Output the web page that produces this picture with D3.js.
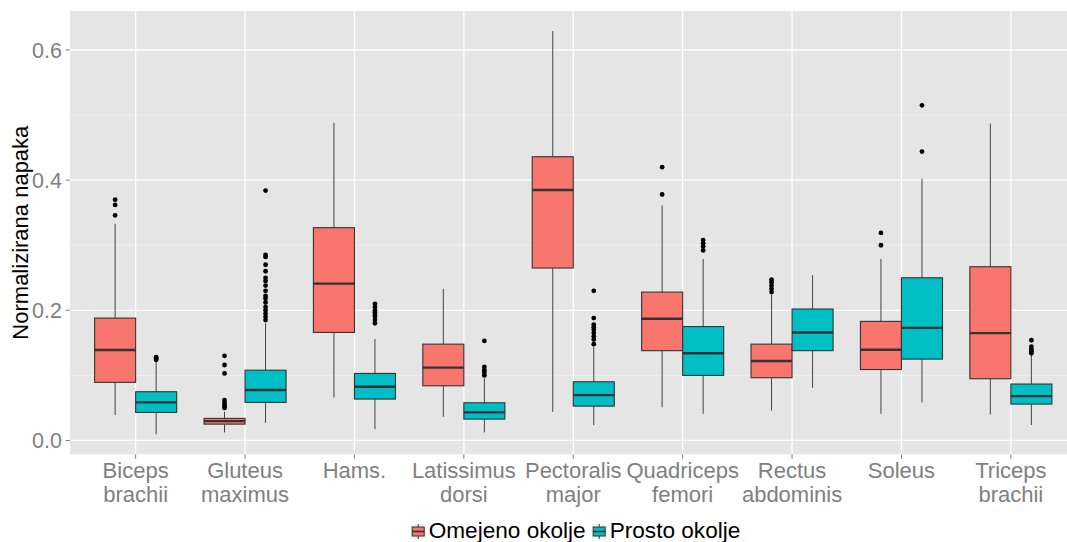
<!DOCTYPE html>
<html>
<head>
<meta charset="utf-8">
<script src="https://cdn.jsdelivr.net/npm/d3@7"></script>
<style>
  body { margin: 0; background: #fff; }
  text { font-family: "Liberation Sans", Arial, sans-serif; }
</style>
</head>
<body>
<script>
// categories and groups
const muscles = ["Biceps\nbrachii", "Gluteus\nmaximus", "Hams.", "Latissimus\ndorsi", "Pectoralis\nmajor",
  "Quadriceps\nfemori", "Rectus\nabdominis", "Soleus", "Triceps\nbrachii"];
const groups = ["Omejeno okolje", "Prosto okolje"];
const yTicks = [0.0, 0.2, 0.4, 0.6];
const yMinor = [0.1, 0.3, 0.5];

// Omejeno okolje (box stats per muscle)
const omLow = [0.039, 0.0123, 0.066, 0.0363, 0.044, 0.051, 0.046, 0.041, 0.040];
const omQ1 = [0.0893, 0.0251, 0.166, 0.084, 0.265, 0.138, 0.0964, 0.109, 0.0949];
const omMed = [0.139, 0.0297, 0.241, 0.112, 0.385, 0.187, 0.122, 0.1395, 0.165];
const omQ3 = [0.188, 0.0339, 0.327, 0.148, 0.436, 0.228, 0.148, 0.183, 0.267];
const omHigh = [0.333, 0.044, 0.488, 0.233, 0.629, 0.361, 0.224, 0.279, 0.487];
const omOut = [
  [0.346, 0.362, 0.370],
  [0.050, 0.052, 0.055, 0.058, 0.062, 0.103, 0.116, 0.130],
  [], [], [],
  [0.378, 0.420],
  [0.228, 0.233, 0.238, 0.243, 0.247],
  [0.300, 0.319],
  []
];

// Prosto okolje
const prLow = [0.0097, 0.027, 0.0174, 0.0123, 0.0236, 0.041, 0.081, 0.0585, 0.0236];
const prQ1 = [0.0431, 0.0585, 0.0636, 0.0328, 0.0528, 0.100, 0.138, 0.125, 0.0559];
const prMed = [0.0585, 0.0775, 0.0825, 0.0431, 0.0697, 0.134, 0.166, 0.173, 0.0682];
const prQ3 = [0.0749, 0.108, 0.103, 0.0579, 0.0902, 0.175, 0.202, 0.250, 0.0867];
const prHigh = [0.121, 0.180, 0.156, 0.0955, 0.144, 0.279, 0.254, 0.402, 0.131];
const prOut = [
  [0.124, 0.126, 0.128],
  [0.185, 0.19, 0.195, 0.20, 0.205, 0.212, 0.218, 0.222, 0.23, 0.238, 0.245, 0.25, 0.26, 0.27, 0.282, 0.285, 0.384],
  [0.18, 0.185, 0.19, 0.193, 0.197, 0.20, 0.205, 0.210],
  [0.100, 0.104, 0.108, 0.113, 0.153],
  [0.148, 0.155, 0.16, 0.165, 0.17, 0.174, 0.178, 0.188, 0.230],
  [0.292, 0.298, 0.303, 0.308],
  [],
  [0.444, 0.515],
  [0.134, 0.137, 0.140, 0.144, 0.154]
];

const colors = ["#F8766D", "#00BFC4"];

const W = 1067, H = 542;
const panel = { left: 70, top: 11, right: 1076.5, bottom: 454.3 };

const svg = d3.select("body").append("svg")
  .attr("width", W).attr("height", H);

const boxes = [
  muscles.map((m, i) => ({ m, i, low: omLow[i], q1: omQ1[i], med: omMed[i], q3: omQ3[i], high: omHigh[i], out: omOut[i] })),
  muscles.map((m, i) => ({ m, i, low: prLow[i], q1: prQ1[i], med: prMed[i], q3: prQ3[i], high: prHigh[i], out: prOut[i] }))
];

// y domain like ggplot: data range expanded 5%
const allVals = boxes.flat().flatMap(d => [d.low, d.high, ...d.out]);
const [ymin, ymax] = d3.extent(allVals);
const pad = (ymax - ymin) * 0.05;
const y = d3.scaleLinear().domain([ymin - pad, ymax + pad]).range([panel.bottom, panel.top]);

const x = d3.scalePoint().domain(muscles).range([panel.left, panel.right]).padding(0.6);
const step = x.step();
const dodge = 0.75 * step / 2;
const bw = 0.375 * step;

// panel background
svg.append("rect")
  .attr("x", panel.left).attr("y", panel.top)
  .attr("width", panel.right - panel.left).attr("height", panel.bottom - panel.top)
  .attr("fill", "#E5E5E5");

// grid
svg.append("g").selectAll("line").data(yMinor).join("line")
  .attr("x1", panel.left).attr("x2", panel.right)
  .attr("y1", d => y(d)).attr("y2", d => y(d))
  .attr("stroke", "#F2F2F2").attr("stroke-width", 0.8);
svg.append("g").selectAll("line").data(yTicks).join("line")
  .attr("x1", panel.left).attr("x2", panel.right)
  .attr("y1", d => y(d)).attr("y2", d => y(d))
  .attr("stroke", "#fff").attr("stroke-width", 1.3);
svg.append("g").selectAll("line").data(muscles).join("line")
  .attr("x1", d => x(d)).attr("x2", d => x(d))
  .attr("y1", panel.top).attr("y2", panel.bottom)
  .attr("stroke", "#fff").attr("stroke-width", 1.3);

// boxes
boxes.forEach((data, gi) => {
  const off = gi === 0 ? -dodge / 2 : dodge / 2;
  const g = svg.append("g");
  const cx = d => x(d.m) + off;

  g.selectAll(".wh").data(data).join("line")
    .attr("x1", cx).attr("x2", cx)
    .attr("y1", d => y(d.high)).attr("y2", d => y(d.q3))
    .attr("stroke", "#444").attr("stroke-width", 1);
  g.selectAll(".wl").data(data).join("line")
    .attr("x1", cx).attr("x2", cx)
    .attr("y1", d => y(d.q1)).attr("y2", d => y(d.low))
    .attr("stroke", "#444").attr("stroke-width", 1);

  g.selectAll("rect").data(data).join("rect")
    .attr("x", d => cx(d) - bw / 2).attr("width", bw)
    .attr("y", d => y(d.q3)).attr("height", d => y(d.q1) - y(d.q3))
    .attr("fill", colors[gi]).attr("stroke", "#333").attr("stroke-width", 1.1);

  g.selectAll(".med").data(data).join("line")
    .attr("x1", d => cx(d) - bw / 2).attr("x2", d => cx(d) + bw / 2)
    .attr("y1", d => y(d.med)).attr("y2", d => y(d.med))
    .attr("stroke", "#333").attr("stroke-width", 2.4);

  g.selectAll("circle").data(data.flatMap(d => d.out.map(v => ({ d, v })))).join("circle")
    .attr("cx", o => cx(o.d)).attr("cy", o => y(o.v)).attr("r", 2.4)
    .attr("fill", "#000");
});

// y axis
const ya = svg.append("g");
ya.selectAll("line").data(yTicks).join("line")
  .attr("x1", panel.left - 4.5).attr("x2", panel.left)
  .attr("y1", d => y(d)).attr("y2", d => y(d))
  .attr("stroke", "#7f7f7f").attr("stroke-width", 1);
ya.selectAll("text").data(yTicks).join("text")
  .attr("x", panel.left - 8).attr("y", d => y(d))
  .attr("dy", "0.36em")
  .attr("text-anchor", "end")
  .attr("fill", "#7f7f7f").style("font-size", "21.5px")
  .text(d => d3.format(".1f")(d));

svg.append("text")
  .attr("transform", `translate(28, ${(panel.top + panel.bottom) / 2}) rotate(-90)`)
  .attr("text-anchor", "middle")
  .style("font-size", "22px").attr("fill", "#000")
  .text("Normalizirana napaka");

// x axis
const xa = svg.append("g");
xa.selectAll("line").data(muscles).join("line")
  .attr("x1", d => x(d)).attr("x2", d => x(d))
  .attr("y1", panel.bottom).attr("y2", panel.bottom + 4.5)
  .attr("stroke", "#7f7f7f").attr("stroke-width", 1);
xa.selectAll("text").data(muscles).join("text")
  .attr("x", d => x(d)).attr("y", 478)
  .attr("text-anchor", "middle")
  .attr("fill", "#7f7f7f").style("font-size", "22px")
  .each(function (d) {
    d.split("\n").forEach((line, k) => {
      d3.select(this).append("tspan")
        .attr("x", x(d)).attr("y", 478 + k * 23.6).text(line);
    });
  });

// legend
const legend = svg.append("g");
const keyW = 15, keyH = 15, ly = 524;
let lx = 0;
groups.forEach((name, gi) => {
  const k = legend.append("g").attr("transform", `translate(${lx},0)`);
  k.append("rect").attr("x", 0).attr("y", ly).attr("width", keyW).attr("height", keyH)
    .attr("fill", "#F2F2F2");
  k.append("line").attr("x1", keyW / 2).attr("x2", keyW / 2).attr("y1", ly).attr("y2", ly + keyH)
    .attr("stroke", "#333").attr("stroke-width", 1);
  k.append("rect").attr("x", 1.5).attr("y", ly + 3).attr("width", keyW - 3).attr("height", keyH - 6)
    .attr("fill", colors[gi]).attr("stroke", "#333").attr("stroke-width", 1);
  k.append("line").attr("x1", 1.5).attr("x2", keyW - 1.5).attr("y1", ly + keyH / 2).attr("y2", ly + keyH / 2)
    .attr("stroke", "#333").attr("stroke-width", 1.6);
  const t = k.append("text").attr("x", keyW + 3).attr("y", 538.3)
    .style("font-size", "22.6px").attr("fill", "#000").text(name);
  lx += keyW + 3 + t.node().getComputedTextLength() + 6;
});
const legW = lx - 6;
legend.attr("transform", `translate(${575.5 - legW / 2},0)`);
</script>
</body>
</html>
